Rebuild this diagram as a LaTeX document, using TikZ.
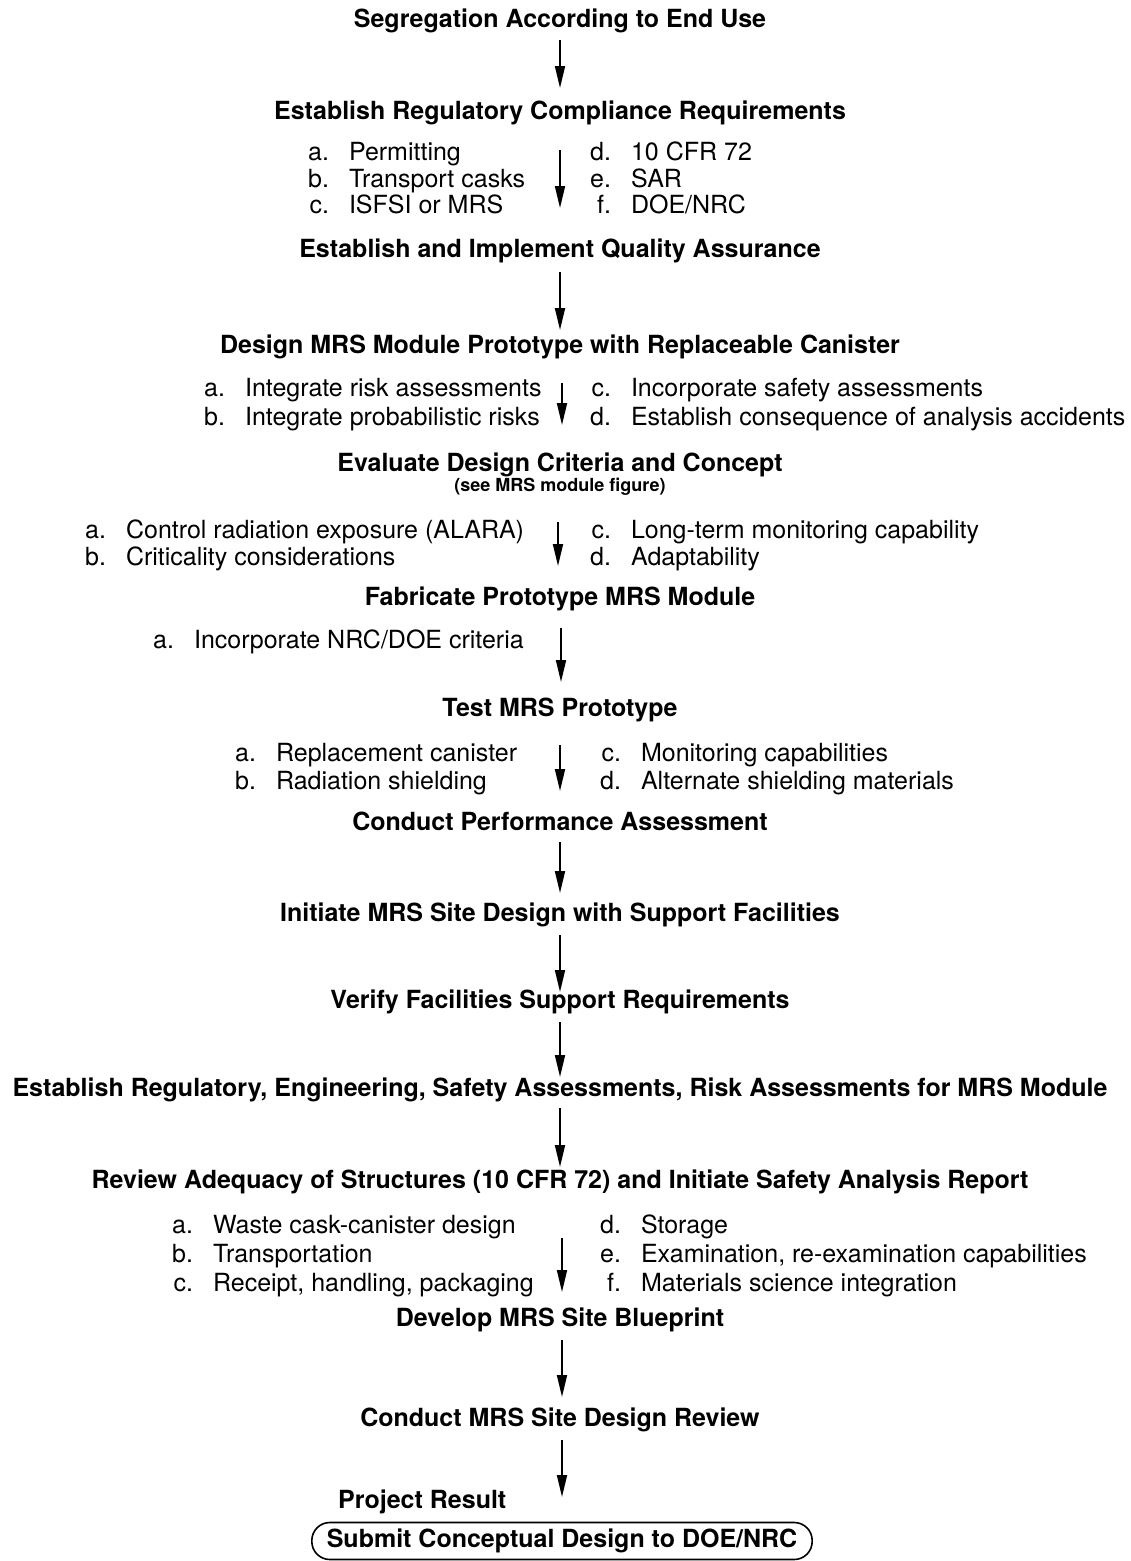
\documentclass[tikz,border=0pt]{standalone}
\usepackage{fontspec}
\setmainfont{TeX Gyre Heros}
\usetikzlibrary{arrows.meta}
\newcommand{\itm}[2]{\makebox[0.834em][r]{#1}\hspace{0.8em}#2}
\begin{document}
\begin{tikzpicture}[x=1pt,y=-1pt,
  title/.style={font=\fontsize{25}{28}\selectfont\bfseries, anchor=base, inner sep=0pt},
  subtitle/.style={font=\fontsize{18}{20}\selectfont\bfseries, anchor=base, inner sep=0pt},
  item/.style={font=\fontsize{25}{28}\selectfont, anchor=base west, inner sep=0pt},
  flow/.style={line width=1.8pt, -{Triangle[width=10pt,length=22pt]}},
]
\useasboundingbox (0,0) rectangle (1130,1561);

% titles
\node[title] (t1) at (560,27) {Segregation According to End Use};
\node[title] (t2) at (560,119) {Establish Regulatory Compliance Requirements};
\node[title] (t3) at (560,257) {Establish and Implement Quality Assurance};
\node[title] (t4) at (560,353) {Design MRS Module Prototype with Replaceable Canister};
\node[title] (t5) at (560,471) {Evaluate Design Criteria and Concept};
\node[subtitle] (t5s) at (560,491) {(see MRS module figure)};
\node[title] (t6) at (560,605) {Fabricate Prototype MRS Module};
\node[title] (t7) at (560,716) {Test MRS Prototype};
\node[title] (t8) at (560,830) {Conduct Performance Assessment};
\node[title] (t9) at (560,921) {Initiate MRS Site Design with Support Facilities};
\node[title] (t10) at (560,1008) {Verify Facilities Support Requirements};
\node[title] (t11) at (560,1096) {Establish Regulatory, Engineering, Safety Assessments, Risk Assessments for MRS Module};
\node[title] (t12) at (560,1188) {Review Adequacy of Structures (10 CFR 72) and Initiate Safety Analysis Report};
\node[title] (t13) at (560,1326) {Develop MRS Site Blueprint};
\node[title] (t14) at (560,1426) {Conduct MRS Site Design Review};
\node[title, anchor=base west] (t15) at (338,1508) {Project Result};
\node[draw, line width=1.6pt, rounded corners=18pt, minimum height=37pt, inner xsep=15pt, inner ysep=0pt,
      font=\fontsize{25}{28}\selectfont\bfseries] (res) at (562,1541) {Submit Conceptual Design to DOE/NRC};

% list 1
\node[item] (l1a) at (308,160) {\itm{a.}{Permitting}};
\node[item] (l1b) at (308,187) {\itm{b.}{Transport casks}};
\node[item] (l1c) at (308,213) {\itm{c.}{ISFSI or MRS}};
\node[item] (l1d) at (590,160) {\itm{d.}{10 CFR 72}};
\node[item] (l1e) at (590,187) {\itm{e.}{SAR}};
\node[item] (l1f) at (590,213) {\itm{f.}{DOE/NRC}};

% list 2
\node[item] (l2a) at (204,396) {\itm{a.}{Integrate risk assessments}};
\node[item] (l2b) at (204,425) {\itm{b.}{Integrate probabilistic risks}};
\node[item] (l2c) at (590,396) {\itm{c.}{Incorporate safety assessments}};
\node[item] (l2d) at (590,425) {\itm{d.}{Establish consequence of analysis accidents}};

% list 3
\node[item] (l3a) at (85,538) {\itm{a.}{Control radiation exposure (ALARA)}};
\node[item] (l3b) at (85,565) {\itm{b.}{Criticality considerations}};
\node[item] (l3c) at (590,538) {\itm{c.}{Long-term monitoring capability}};
\node[item] (l3d) at (590,565) {\itm{d.}{Adaptability}};

% list 4
\node[item] (l4a) at (153,648) {\itm{a.}{Incorporate NRC/DOE criteria}};

% list 5
\node[item] (l5a) at (235,761) {\itm{a.}{Replacement canister}};
\node[item] (l5b) at (235,789) {\itm{b.}{Radiation shielding}};
\node[item] (l5c) at (600,761) {\itm{c.}{Monitoring capabilities}};
\node[item] (l5d) at (600,789) {\itm{d.}{Alternate shielding materials}};

% list 6
\node[item] (l6a) at (172,1233) {\itm{a.}{Waste cask-canister design}};
\node[item] (l6b) at (172,1262) {\itm{b.}{Transportation}};
\node[item] (l6c) at (172,1291) {\itm{c.}{Receipt, handling, packaging}};
\node[item] (l6d) at (600,1233) {\itm{d.}{Storage}};
\node[item] (l6e) at (600,1262) {\itm{e.}{Examination, re-examination capabilities}};
\node[item] (l6f) at (600,1291) {\itm{f.}{Materials science integration}};

% arrow end points
\coordinate (a1s) at (560,40);   \coordinate (a1e) at (560,88);
\coordinate (a2s) at (560,150);  \coordinate (a2e) at (560,208);
\coordinate (a3s) at (560,272);  \coordinate (a3e) at (560,330);
\coordinate (a4s) at (562,383);  \coordinate (a4e) at (562,425);
\coordinate (a5s) at (558,522);  \coordinate (a5e) at (558,566);
\coordinate (a6s) at (561,628);  \coordinate (a6e) at (561,682);
\coordinate (a7s) at (560,745);  \coordinate (a7e) at (560,791);
\coordinate (a8s) at (560,842);  \coordinate (a8e) at (560,893);
\coordinate (a9s) at (560,935);  \coordinate (a9e) at (560,992);
\coordinate (a10s) at (560,1022); \coordinate (a10e) at (560,1077);
\coordinate (a11s) at (560,1108); \coordinate (a11e) at (560,1167);
\coordinate (a12s) at (562,1238); \coordinate (a12e) at (562,1292);
\coordinate (a13s) at (562,1340); \coordinate (a13e) at (562,1397);
\coordinate (a14s) at (562,1440); \coordinate (a14e) at (562,1497);

\foreach \i in {1,...,14} \draw[flow] (a\i s) -- (a\i e);
\end{tikzpicture}
\end{document}
